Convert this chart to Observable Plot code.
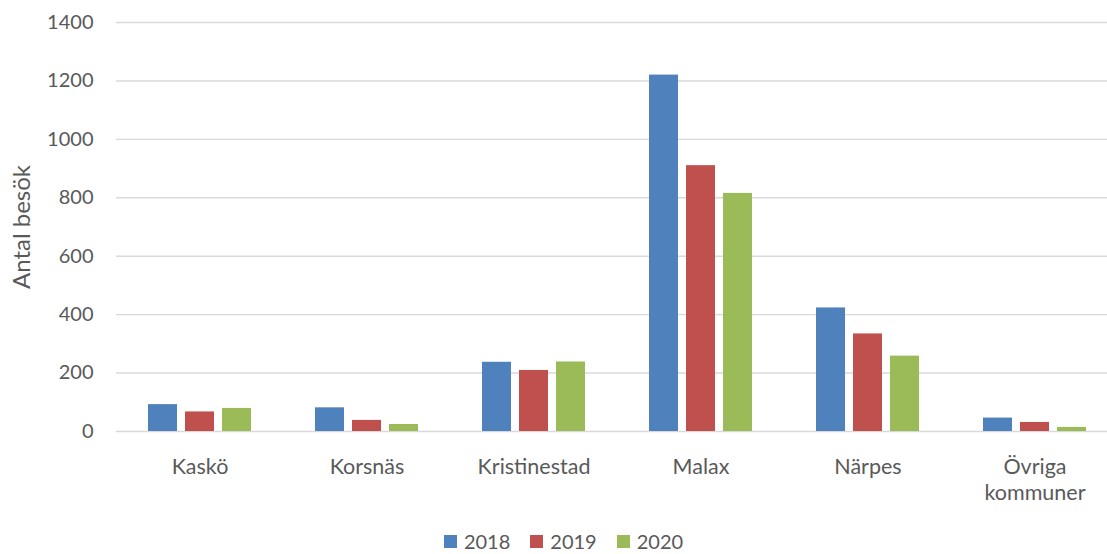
<!DOCTYPE html>
<html>
<head>
<meta charset="utf-8">
<script src="https://cdn.jsdelivr.net/npm/d3@7"></script>
<script src="https://cdn.jsdelivr.net/npm/@observablehq/plot@0.6"></script>
<style>
  html, body { margin: 0; padding: 0; background: #ffffff; }
  body { position: relative; width: 1107px; height: 554px; overflow: hidden; font-family: Lato, "Liberation Sans", sans-serif; }
  #legend { position: absolute; left: 0; top: 529px; width: 1107px; height: 24px; box-sizing: border-box; padding-left: 20px;
            display: flex; justify-content: center; align-items: center; font-size: 20px; line-height: 24px; color: #595959; }
  .item { display: flex; align-items: center; margin: 0 10px; }
  .sw { width: 13px; height: 13px; margin-right: 7px; }
</style>
</head>
<body>
<div id="chart"></div>
<div id="legend"></div>
<script>
const categories = ["Kaskö", "Korsnäs", "Kristinestad", "Malax", "Närpes", "Övriga kommuner"];
const years = ["2018", "2019", "2020"];
const values2018 = [92, 81, 237, 1220, 423, 46];
const values2019 = [67, 38, 209, 910, 334, 31];
const values2020 = [79, 24, 238, 815, 258, 14];
const yTicks = [0, 200, 400, 600, 800, 1000, 1200, 1400];
const colors = ["#4F81BD", "#C0504D", "#9BBB59"];
const yLabel = "Antal besök";

const seriesValues = [values2018, values2019, values2020];
const data = years.map((yr, s) => categories.map((c, i) => ({cat: c, year: yr, value: seriesValues[s][i]})));

const W = 1107, H = 525, mL = 116, mR = -11;
const band = (W - mR - mL) / categories.length;
const barW = 29, step = 37;

const barMarks = years.map((yr, s) => Plot.barY(data[s], {
  x: "cat", y: "value", fill: colors[s],
  insetLeft: (band - barW) / 2, insetRight: (band - barW) / 2,
  dx: (s - 1) * step
}));

const chart = Plot.plot({
  width: W, height: H,
  marginLeft: mL, marginRight: mR, marginTop: 22, marginBottom: 94,
  style: {fontFamily: "Lato, 'Liberation Sans', sans-serif", fontSize: "20px", color: "#595959", background: "white"},
  x: {domain: categories, padding: 0},
  y: {domain: [0, 1400]},
  marks: [
    Plot.ruleY(yTicks, {stroke: "#D9D9D9", strokeWidth: 1.4}),
    Plot.axisY({ticks: yTicks, tickSize: 0, tickPadding: 23, label: null, fill: "#595959", fontSize: 20,
      tickFormat: d => String(d)}),
    Plot.text([yLabel], {frameAnchor: "left", textAnchor: "middle", rotate: -90, dx: -94, fill: "#595959", fontSize: 24}),
    ...barMarks,
    Plot.axisX({tickSize: 0, tickPadding: 23, label: null, fill: "#595959", fontSize: 21.5, lineHeight: 1.25,
      tickFormat: d => d.replace(" ", "\n")})
  ]
});
document.getElementById("chart").appendChild(chart);

const legend = document.getElementById("legend");
years.forEach((yr, s) => {
  const it = document.createElement("div");
  it.className = "item";
  it.innerHTML = `<span class="sw" style="background:${colors[s]}"></span><span>${yr}</span>`;
  legend.appendChild(it);
});
</script>
</body>
</html>
